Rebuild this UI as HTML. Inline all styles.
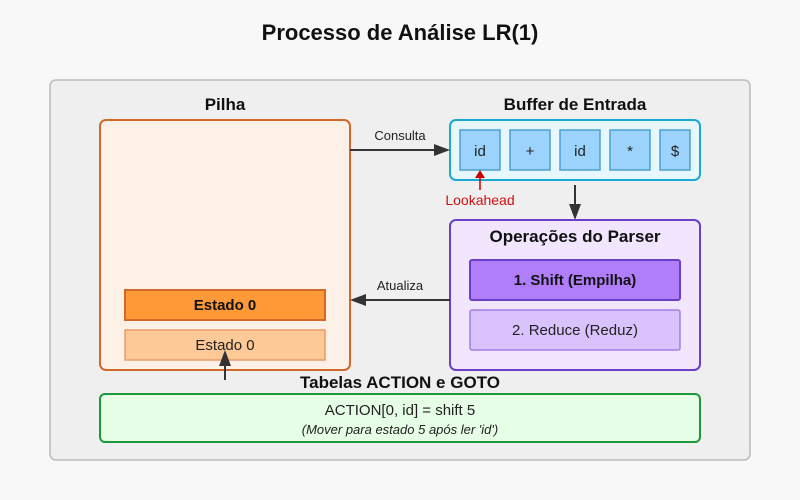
<!DOCTYPE html>
<html><head><meta charset="utf-8"><style>
html,body{margin:0;padding:0;background:#f8f8f8;}
svg{display:block;font-family:"Liberation Sans",Arial,sans-serif;}
</style></head><body>
<svg width="800" height="500" viewBox="0 0 800 500">
<rect x="0" y="0" width="800" height="500" rx="12" fill="#f8f8f8"/>
<text x="400" y="40" font-size="22" font-weight="bold" text-anchor="middle" fill="#111">Processo de Análise LR(1)</text>
<rect x="50" y="80" width="700" height="380" rx="6" fill="#efefef" stroke="#bbb" stroke-width="1.5"/>

<text x="225" y="110" font-size="17" font-weight="bold" text-anchor="middle" fill="#111">Pilha</text>
<rect x="100" y="120" width="250" height="250" rx="6" fill="#fdf0e6" stroke="#d2692a" stroke-width="2"/>
<rect x="125" y="290" width="200" height="30" fill="#fd9a37" stroke="#d2692a" stroke-width="2"/>
<text x="225" y="310" font-size="15" font-weight="bold" text-anchor="middle" fill="#111">Estado 0</text>
<rect x="125" y="330" width="200" height="30" fill="#fdc997" stroke="#e89a6a" stroke-width="1.5"/>
<text x="225" y="350" font-size="15" text-anchor="middle" fill="#222">Estado 0</text>
<line x1="225" y1="380" x2="225" y2="360" stroke="#333" stroke-width="2"/>
<polygon points="225,350 219,366 231,366" fill="#333"/>

<text x="575" y="110" font-size="17" font-weight="bold" text-anchor="middle" fill="#111">Buffer de Entrada</text>
<rect x="450" y="120" width="250" height="60" rx="6" fill="#e6f8fd" stroke="#1aa9d2" stroke-width="2"/>
<g stroke="#4a9fd0" stroke-width="1.5" fill="#9bd3fc">
<rect x="460" y="130" width="40" height="40"/><rect x="510" y="130" width="40" height="40"/>
<rect x="560" y="130" width="40" height="40"/><rect x="610" y="130" width="40" height="40"/>
<rect x="660" y="130" width="30" height="40"/></g>
<g font-size="15" text-anchor="middle" fill="#222">
<text x="480" y="156">id</text><text x="530" y="156">+</text><text x="580" y="156">id</text>
<text x="630" y="156">*</text><text x="675" y="156">$</text></g>
<line x1="480" y1="190" x2="480" y2="176" stroke="#c00" stroke-width="1.5"/>
<polygon points="480,170 475,178 485,178" fill="#c00"/>
<text x="480" y="205" font-size="14" text-anchor="middle" fill="#d01010">Lookahead</text>

<line x1="350" y1="150" x2="440" y2="150" stroke="#333" stroke-width="2"/>
<polygon points="450,150 434,144 434,156" fill="#333"/>
<text x="400" y="140" font-size="13" text-anchor="middle" fill="#222">Consulta</text>

<line x1="575" y1="185" x2="575" y2="210" stroke="#333" stroke-width="2"/>
<polygon points="575,220 569,204 581,204" fill="#333"/>

<rect x="450" y="220" width="250" height="150" rx="6" fill="#f1e6fd" stroke="#6a3fc8" stroke-width="2"/>
<text x="575" y="242" font-size="17" font-weight="bold" text-anchor="middle" fill="#111">Operações do Parser</text>
<rect x="470" y="260" width="210" height="40" rx="2" fill="#b07efb" stroke="#6a3fc8" stroke-width="2"/>
<text x="575" y="285" font-size="15" font-weight="bold" text-anchor="middle" fill="#111">1. Shift (Empilha)</text>
<rect x="470" y="310" width="210" height="40" rx="2" fill="#dac2fd" stroke="#a27ee6" stroke-width="1.5"/>
<text x="575" y="335" font-size="15" text-anchor="middle" fill="#222">2. Reduce (Reduz)</text>

<line x1="450" y1="300" x2="360" y2="300" stroke="#333" stroke-width="2"/>
<polygon points="350,300 366,294 366,306" fill="#333"/>
<text x="400" y="290" font-size="13" text-anchor="middle" fill="#222">Atualiza</text>

<text x="400" y="388" font-size="17" font-weight="bold" text-anchor="middle" fill="#111">Tabelas ACTION e GOTO</text>
<rect x="100" y="394" width="600" height="48" rx="5" fill="#e6fde6" stroke="#1a9a3a" stroke-width="2"/>
<text x="400" y="415" font-size="15" text-anchor="middle" fill="#222">ACTION[0, id] = shift 5</text>
<text x="400" y="434" font-size="13" font-style="italic" text-anchor="middle" fill="#222">(Mover para estado 5 após ler 'id')</text>
</svg>
</body></html>
